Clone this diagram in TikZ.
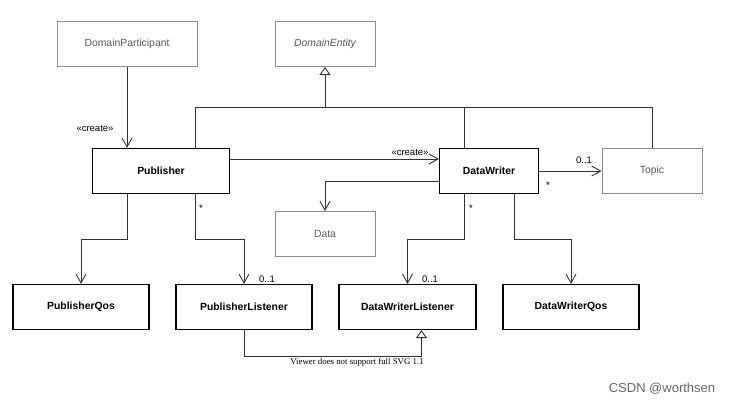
\documentclass[tikz,border=0pt]{standalone}
\usepackage{fontspec}
\setmainfont{Liberation Sans}
\newfontfamily\viewerfont{Liberation Serif}
\usetikzlibrary{arrows.meta}
\tikzset{
    cls/.style={draw=black,line width=1.2pt,minimum width=137pt,minimum height=45pt,
        inner sep=0pt,font=\fontsize{10.4}{12}\selectfont\bfseries},
    extcls/.style={draw=black!45,line width=0.9pt,text=black!65,minimum width=100pt,
        minimum height=45pt,inner sep=0pt,font=\fontsize{10.4}{12}\selectfont},
    link/.style={draw=black!80,line width=0.9pt},
    assoc/.style={link,-{Straight Barb[length=9pt,width=10pt]}},
    gen/.style={link,-{Triangle[open,length=8pt,width=11pt]}},
    lbl/.style={font=\fontsize{9.5}{11}\selectfont,inner sep=0pt},
}
\newcommand\ClassBox[4]{%
    \node[#1] (#2) at (#3) {#4};
}

\begin{document}
\begin{tikzpicture}[x=1pt,y=-1pt]
    \useasboundingbox (0,0) rectangle (730,403);
    % classes
    \ClassBox{extcls,minimum width=140pt}{DP}{127,44}{DomainParticipant}
    \ClassBox{extcls}{DE}{325,44}{\itshape DomainEntity}
    \ClassBox{cls}{Pub}{161,171}{Publisher}
    \ClassBox{cls,minimum width=99pt}{DW}{489,171}{DataWriter}
    \ClassBox{extcls}{Topic}{652,171}{Topic}
    \ClassBox{extcls}{Data}{325,234}{Data}
    \ClassBox{cls,minimum width=136pt}{PQos}{81,307}{PublisherQos}
    \ClassBox{cls,minimum width=136pt}{PL}{244,307}{PublisherListener}
    \ClassBox{cls}{DWL}{407.5,307}{DataWriterListener}
    \ClassBox{cls,minimum width=136pt}{DWQ}{571,307}{DataWriterQos}
    \coordinate (topbus) at (0,107);
    \coordinate (lowbus) at (0,239);
    \coordinate (genbus) at (0,356.7);
    \coordinate (dwTop) at ([xshift=-25pt]DW.north);
    \coordinate (dwlBot) at ([xshift=14pt]DWL.south);

    % generalization to DomainEntity
    \draw[link] ([xshift=34pt]Pub.north) |- (topbus -| Topic.north) -- (Topic.north);
    \draw[link] (dwTop) -- (dwTop |- topbus);
    \draw[gen] (topbus -| DE.south) -- (DE.south);

    % create
    \draw[assoc] (DP.south) -- (DP.south |- Pub.north);
    \node[lbl] (c1) at (95,128) {«create»};
    \draw[assoc] ([yshift=12pt]Pub.east) -- ([yshift=12pt]DW.west);
    \node[lbl] (c2) at (410,152) {«create»};

    % DataWriter associations
    \draw[assoc] ([yshift=-10pt]DW.west) -| (Data.north);
    \draw[assoc] (DW.east) -- (Topic.west);
    \node[lbl] (m1) at (584,160) {0..1};
    \node[lbl] (m2) at (548,185) {*};

    % lower tier
    \draw[assoc] ([xshift=-34pt]Pub.south) |- (lowbus -| PQos.north) -- (PQos.north);
    \draw[assoc] ([xshift=34pt]Pub.south) |- (lowbus -| PL.north) -- (PL.north);
    \node[lbl] (m3) at (201,208) {*};
    \node[lbl] (m4) at (267,279) {0..1};
    \draw[assoc] ([xshift=-25pt]DW.south) |- (lowbus -| DWL.north) -- (DWL.north);
    \node[lbl] (m5) at (471,208) {*};
    \node[lbl] (m6) at (430,279) {0..1};
    \draw[assoc] ([xshift=25pt]DW.south) |- (lowbus -| DWQ.north) -- (DWQ.north);

    % listener generalization
    \draw[gen] (PL.south) |- (genbus -| dwlBot) -- (dwlBot);
    \node[font=\viewerfont\fontsize{8.8}{10}\selectfont,inner sep=0pt] (svg) at (357,362) {Viewer does not support full SVG 1.1};

    \node[font=\fontsize{13}{15}\selectfont,text=black!60,inner sep=0pt] (mark) at (662,389) {CSDN @worthsen};
\end{tikzpicture}
\end{document}
